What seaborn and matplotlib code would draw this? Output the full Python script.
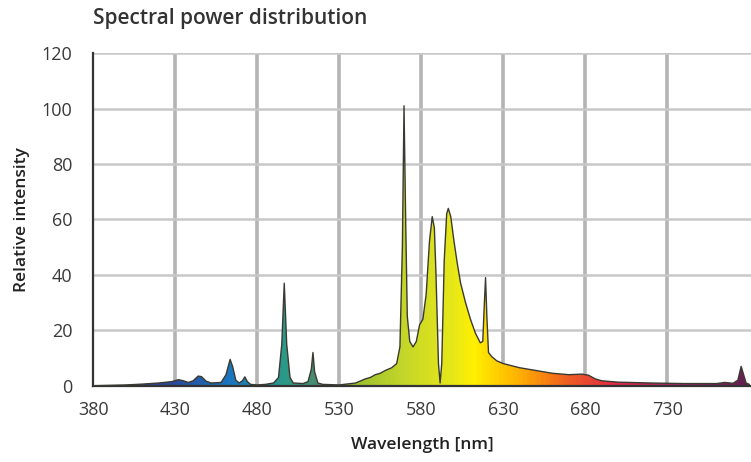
import numpy as np
import pandas as pd
import matplotlib
matplotlib.use("Agg")
import matplotlib.pyplot as plt
import seaborn as sns
from matplotlib.colors import LinearSegmentedColormap

# Spectrum (wavelength in nm, relative intensity)
wavelength = [380, 400, 410, 420, 428, 432, 435, 438, 441, 444, 446, 449, 452, 458,
              461, 463.5, 465, 467, 469, 471, 472.5, 474, 476, 480, 485, 490, 493,
              495, 496.5, 498, 500, 502, 508, 511, 513, 514, 515, 517, 520, 530, 540,
              546, 549, 552, 555, 558, 562, 565, 567, 568.5, 569.5, 570.5, 571.5, 573,
              575, 577, 579, 581, 583, 585, 586.7, 588, 589, 590.5, 591.5, 592.5, 594,
              595.5, 596.5, 598, 600, 602, 604, 607, 610, 613, 616, 617.5, 618.5, 619.2,
              620, 621, 623, 626, 630, 640, 650, 660, 670, 678, 682, 686, 690, 700,
              720, 740, 760, 765, 770, 773, 775, 777, 778, 780]
intensity = [0, 0.3, 0.6, 1.0, 1.5, 2.2, 1.8, 1.2, 1.8, 3.5, 3.3, 1.6, 1.0, 1.2,
             4, 9.5, 7, 2, 1.0, 1.8, 3.2, 1.5, 0.5, 0.3, 0.5, 1.0, 3,
             15, 37, 15, 3, 1, 0.8, 1.5, 6, 12, 5, 1, 0.5, 0.3, 1,
             2.5, 3, 4, 4.5, 5.5, 6.5, 8, 14, 50, 101, 60, 25, 16,
             14, 16, 22, 24, 33, 52, 61, 57, 40, 8, 1, 8, 45,
             62, 64, 61, 52, 44, 37, 30, 24, 19, 15.5, 16, 30, 39,
             25, 12, 10.5, 9, 8, 6.5, 5.5, 4.5, 4, 4.2, 3.8, 2.5, 1.8, 1.3,
             1.0, 0.8, 0.8, 1.2, 0.9, 2, 7, 3, 1, 0.5]

x_ticks = [380, 430, 480, 530, 580, 630, 680, 730]
y_ticks = [0, 20, 40, 60, 80, 100, 120]

df = pd.DataFrame({"wavelength": wavelength, "intensity": intensity})

sns.set_style("white")
plt.rcParams["font.family"] = ["Open Sans", "DejaVu Sans"]

fig = plt.figure(figsize=(7.51, 4.62), dpi=100)
ax = fig.add_axes([0.124, 0.165, 0.876, 0.72])

# spectral colours by wavelength
spec_cmap = LinearSegmentedColormap.from_list("spec", [
    (0.00, "#3a3a80"), (0.12, "#2a4a9c"), (0.21, "#1a78c0"), (0.29, "#2a9a88"),
    (0.34, "#4a8a70"), (0.40, "#9ac030"), (0.48, "#c8d828"), (0.55, "#e8e818"),
    (0.58, "#fff000"), (0.65, "#ffb000"), (0.72, "#f06020"), (0.80, "#e02848"),
    (0.90, "#a02868"), (1.00, "#602050")])

fill = ax.fill_between(df["wavelength"], df["intensity"], 0, color="none", lw=0)
grad = np.linspace(0, 1, 400).reshape(1, -1)
img = ax.imshow(grad, cmap=spec_cmap, aspect="auto", extent=[380, 780, 0, 120],
                origin="lower", zorder=2)
img.set_clip_path(fill.get_paths()[0], transform=ax.transData)

sns.lineplot(data=df, x="wavelength", y="intensity", ax=ax, color="#3a3a32",
             lw=1.0, zorder=3)

ax.set_xlim(380, 781)
ax.set_ylim(0, 120)
ax.set_xticks(x_ticks)
ax.set_yticks(y_ticks)

for x in x_ticks[1:]:
    ax.axvline(x, color="#b4b4b4", lw=2.6, zorder=1)
for y in y_ticks[1:]:
    ax.axhline(y, color="#c8c8c8", lw=1.8, zorder=1)

for s in ["top", "right"]:
    ax.spines[s].set_visible(False)
ax.spines["left"].set_color("#333333")
ax.spines["bottom"].set_color("#333333")
ax.spines["left"].set_linewidth(1.6)
ax.spines["bottom"].set_linewidth(1.6)

ax.tick_params(axis="both", length=0, labelsize=13, labelcolor="#3a3a3a")
ax.tick_params(axis="x", pad=11)
ax.tick_params(axis="y", pad=15)
ax.set_xlabel("Wavelength [nm]", fontsize=12.5, fontweight="semibold", color="#222222")
ax.set_ylabel("Relative intensity", fontsize=12.5, fontweight="semibold", color="#222222")
ax.xaxis.set_label_coords(0.5, -0.155)
ax.yaxis.set_label_coords(-0.096, 0.5)

fig.text(0.124, 0.96, "Spectral power distribution", fontsize=15, fontweight="semibold",
         color="#333333", ha="left", va="center")

fig.savefig("out.png", dpi=100)
